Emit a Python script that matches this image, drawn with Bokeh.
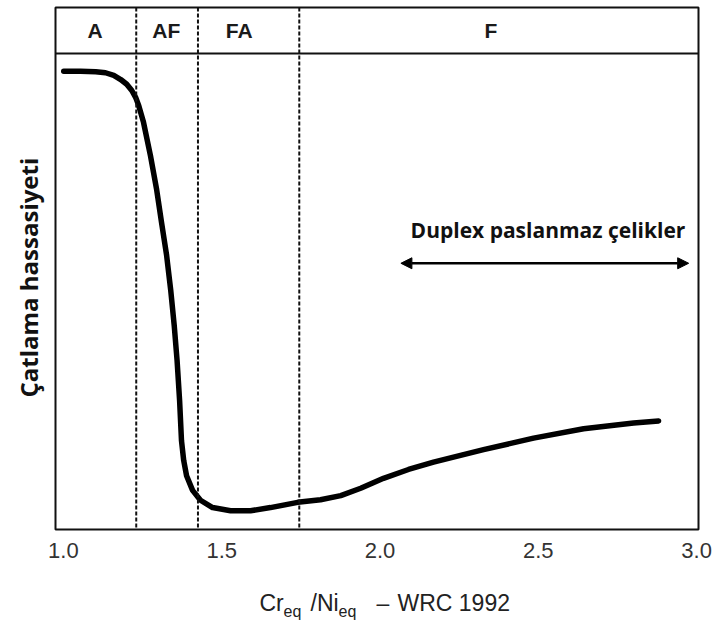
from bokeh.plotting import figure
from bokeh.layouts import column
from bokeh.models import Range1d, Span, Label, Arrow, NormalHead, FixedTicker, PrintfTickFormatter, Title
from bokeh.core.properties import value
from bokeh.embed import file_html
from bokeh.resources import INLINE

# Curve: Cr_eq/Ni_eq ratio vs. cracking susceptibility (arbitrary units)
ratio = [1.001, 1.054, 1.102, 1.133, 1.159, 1.181, 1.200, 1.216, 1.228, 1.238,
         1.253, 1.275, 1.294, 1.310, 1.326, 1.339, 1.350, 1.359, 1.367, 1.373,
         1.380, 1.389, 1.408, 1.433, 1.471, 1.528, 1.591, 1.654, 1.740, 1.812,
         1.876, 1.939, 2.011, 2.090, 2.169, 2.327, 2.485, 2.643, 2.801, 2.880]
sensitivity = [87.8, 87.8, 87.7, 87.5, 87.0, 86.2, 85.3, 84.1, 82.8, 81.2,
               78.0, 71.6, 65.3, 58.8, 52.5, 45.8, 39.1, 32.4, 24.7, 17.0,
               13.2, 10.3, 7.5, 5.6, 4.2, 3.6, 3.6, 4.2, 5.2, 5.7,
               6.5, 7.9, 9.8, 11.5, 12.9, 15.3, 17.5, 19.3, 20.4, 20.8]

zones = ["A", "AF", "FA", "F"]
zone_label_x = [1.10, 1.325, 1.555, 2.35]
zone_boundaries = [1.23, 1.425, 1.745]
x_ticks = [1.0, 1.5, 2.0, 2.5, 3.0]
duplex_range = [2.066, 2.975]
duplex_level = 51.0
band_floor = 91.2
x_min, x_max = 0.975, 3.006
y_min, y_max = 0.0, 100.0

p = figure(width=713, height=575, x_range=Range1d(x_min, x_max), y_range=Range1d(y_min, y_max),
           output_backend="svg", toolbar_location=None,
           min_border_left=55, min_border_right=15, min_border_top=7, min_border_bottom=46)
p.grid.visible = False
p.yaxis.visible = False
p.outline_line_color = "#111111"
p.outline_line_width = 2
p.background_fill_color = "white"
p.border_fill_color = "white"

xa = p.xaxis[0]
xa.ticker = FixedTicker(ticks=x_ticks)
xa.formatter = PrintfTickFormatter(format="%.1f")
xa.axis_line_color = None
xa.major_tick_line_color = None
xa.minor_tick_line_color = None
xa.major_label_standoff = 7
xa.major_label_text_font = "Liberation Sans"
xa.major_label_text_font_size = "22px"
xa.major_label_text_color = "#333333"

# y-axis title (vertical, left side)
p.add_layout(Title(text="Çatlama hassasiyeti", align="left", vertical_align="top", offset=132, standoff=18,
                   text_font="Open Sans", text_font_style="bold", text_font_size="24px",
                   text_color="#111111"), "left")

# top band
p.add_layout(Span(location=band_floor, dimension="width", line_color="#111111", line_width=2))
for b in zone_boundaries:
    p.add_layout(Span(location=b, dimension="height", line_color="#111111", line_width=2, line_dash="4 2"))

zone_y = [(band_floor + y_max) / 2] * len(zones)
p.text(x=zone_label_x, y=zone_y, text=zones, text_font=value("Liberation Sans"), text_font_style="bold",
       text_font_size="21px", text_align="center", text_baseline="middle", text_color="#1a1a1a")

# curve
p.line(ratio, sensitivity, line_width=5.5, line_color="black", line_cap="round", line_join="round")

# duplex arrow
p.add_layout(Arrow(start=NormalHead(size=11, fill_color="black", line_color="black"),
                   end=NormalHead(size=11, fill_color="black", line_color="black"),
                   x_start=duplex_range[0], x_end=duplex_range[1],
                   y_start=duplex_level, y_end=duplex_level, line_width=2.5, line_color="black"))
p.add_layout(Label(x=(duplex_range[0] + duplex_range[1]) / 2 + 0.01, y=duplex_level + 6.4,
                   text="Duplex paslanmaz çelikler", text_font="Open Sans", text_font_style="bold",
                   text_font_size="21px", text_align="center", text_baseline="middle", text_color="#111111"))

# x-axis title with subscripts, in a strip below the chart
p2 = figure(width=713, height=50, x_range=Range1d(55, 698), y_range=Range1d(625, 575),
            output_backend="svg", toolbar_location=None, x_axis_location=None, y_axis_location=None,
            min_border_left=55, min_border_right=15, min_border_top=0, min_border_bottom=0)
p2.grid.visible = False
p2.outline_line_color = None
p2.background_fill_color = "white"
p2.border_fill_color = "white"

title_parts = ["Cr", "eq", "/Ni", "eq", "–", "WRC 1992"]
title_is_sub = [False, True, False, True, False, False]
title_x = [259, 283, 310, 338, 376, 397]
for txt, sub, tx in zip(title_parts, title_is_sub, title_x):
    p2.text(x=[tx], y=[611 if sub else 602], text=[txt], text_font=value("Liberation Sans"),
            text_font_size="16px" if sub else "23px", text_align="left",
            text_baseline="alphabetic", text_color="#222222")

layout = column(p, p2, spacing=0)
open("out.html", "w").write(file_html(layout, INLINE))
